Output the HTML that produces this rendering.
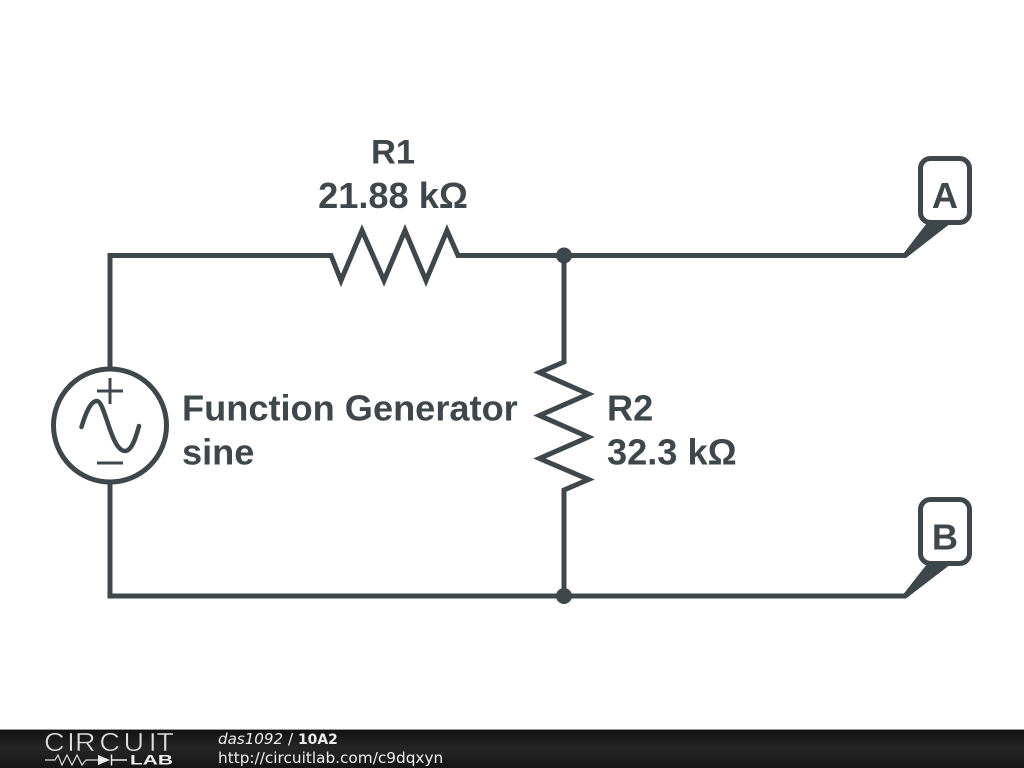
<!DOCTYPE html>
<html><head><meta charset="utf-8"><style>html,body{margin:0;padding:0;background:#fff}svg{display:block}</style></head>
<body>
<svg width="1024" height="768" viewBox="0 0 1024 768" xmlns="http://www.w3.org/2000/svg">
<defs><linearGradient id="g" x1="0" y1="0" x2="0" y2="1"><stop offset="0" stop-color="#111"/><stop offset="0.5" stop-color="#262626"/><stop offset="1" stop-color="#151515"/></linearGradient></defs>
<rect width="1024" height="768" fill="#fff"/>
<g fill="none" stroke="#3e474c" stroke-width="5" stroke-linejoin="miter" stroke-miterlimit="10">
<path d="M110 367V255.500H331L341 280.500 362 230.500 384 280.500 405 230.500 426 280.500 447 230.500 458 255.500H905"/>
<path d="M564 255.500V362L539.500 372.500 588.500 394 539.500 415.500 588.500 437 539.500 458.500 588.500 479.500 564 490V596H905"/>
<path d="M110 484V596H564"/>
<circle cx="110" cy="425.500" r="56.500"/>
<path d="M81.500 427C86 412 91 401 97 401C105 401 111 451 125 451C131 451 135 441 139 426" stroke-width="4.500" stroke-linecap="round"/>
<path d="M97 391H123M110 378V404M97 463H123" stroke-width="3"/>
<rect x="920.500" y="158.500" width="49" height="64" rx="10"/>
<rect x="920.500" y="499.500" width="49" height="64" rx="10"/>
</g>
<g fill="#3e474c">
<circle cx="564" cy="255.500" r="8"/><circle cx="564" cy="596" r="8"/>
<path d="M900 258L927 223H951L906 258Z"/>
<path d="M900 598.500L927 564H951L906 598.500Z"/>
</g>
<g font-family="'Liberation Sans',sans-serif" font-weight="700" font-size="36.200" fill="#3e474c">
<text x="393" y="163.500" text-anchor="middle" font-size="34.500">R1</text>
<text x="393" y="208" text-anchor="middle">21.88 kΩ</text>
<text x="182" y="420.500">Function Generator</text>
<text x="182" y="464.500">sine</text>
<text x="607" y="420.500">R2</text>
<text x="607" y="464.500">32.3 kΩ</text>
<text x="945" y="208" text-anchor="middle">A</text>
<text x="945" y="549.500" text-anchor="middle">B</text>
</g>
<rect y="729" width="1024" height="39" fill="url(#g)"/>
<rect y="729" width="1024" height="1" fill="#999"/>
<g fill="#eee">
<text transform="translate(44,751) scale(1.12,1)" x="0 20.500 27.700 49.500 71 93.500 100.400" y="0" font-family="'Liberation Sans',sans-serif" font-size="25.500" fill="#ddd" stroke="#1c1c1c" stroke-width="0.500">CIRCUIT</text>
<text x="130" y="764.500" font-family="'Liberation Sans',sans-serif" font-weight="700" font-size="14" textLength="43" lengthAdjust="spacingAndGlyphs">LAB</text>
<path d="M45 760H55L58 755 62 765 67 755 72 765 77 755 82 765 86 760H99" fill="none" stroke="#ddd" stroke-width="1.200"/>
<path d="M98 755L110 760 98 765Z"/>
<path d="M111.500 754.500V765.500M111 760H127" stroke="#eee" stroke-width="1.500"/>
<g font-family="'DejaVu Sans',sans-serif" font-size="15.300">
<text x="218" y="744"><tspan font-style="italic" font-size="15.100">das1092</tspan> / <tspan font-weight="700" font-size="13.900">10A2</tspan></text>
<text x="218" y="763">http://circuitlab.com/c9dqxyn</text>
</g>
</g>
</svg>
</body></html>
